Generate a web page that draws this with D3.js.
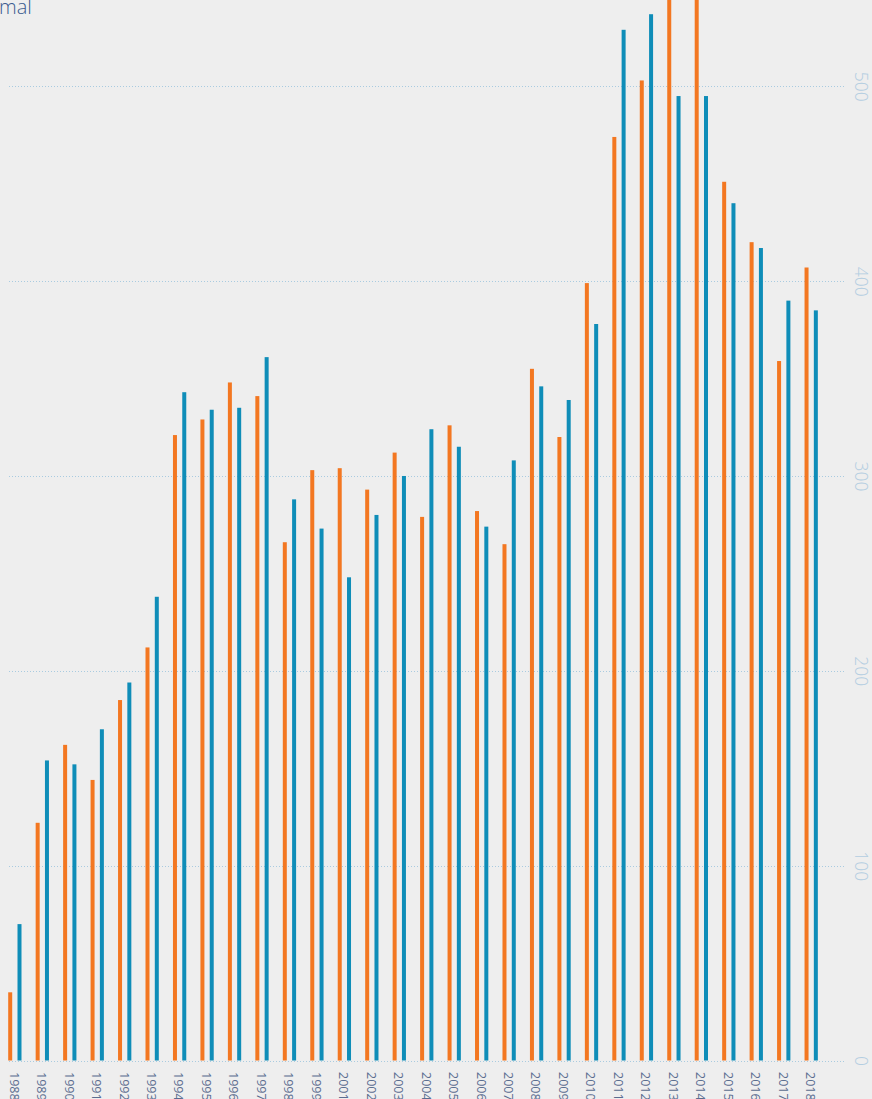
<!DOCTYPE html>
<html>
<head>
<meta charset="utf-8">
<script src="https://cdn.jsdelivr.net/npm/d3@7"></script>
<style>
  html, body { margin: 0; padding: 0; background: #eeeeee; overflow: hidden; }
  svg { display: block; }
</style>
</head>
<body>
<div id="chart"></div>
<script>
// chart data
var years = ["1988", "1989", "1990", "1991", "1992", "1993", "1994", "1995", "1996", "1997",
  "1998", "1999", "2001", "2002", "2003", "2004", "2005", "2006", "2007", "2008",
  "2009", "2010", "2011", "2012", "2013", "2014", "2015", "2016", "2017", "2018"];

var orangeValues = [35, 122, 162, 144, 185, 212, 321, 329, 348, 341,
  266, 303, 304, 293, 312, 279, 326, 282, 265, 355,
  320, 399, 474, 503, 565, 580, 451, 420, 359, 407];

var blueValues = [70, 154, 152, 170, 194, 238, 343, 334, 335, 361,
  288, 273, 248, 280, 300, 324, 315, 274, 308, 346,
  339, 378, 529, 537, 495, 495, 440, 417, 390, 385];

var seriesNames = ["orange", "blue"];
var yTicks = [0, 100, 200, 300, 400, 500];
var titleText = "mal";

var svgWidth = 872;
var svgHeight = 1099;

var colors = { orange: "#f37721", blue: "#0f8db8" };

var svg = d3.select("#chart")
  .append("svg")
  .attr("width", svgWidth)
  .attr("height", svgHeight);

// Scales
var step = 27.46;
var xScale = d3.scaleBand()
  .domain(years)
  .range([8.2, 8.2 + step * years.length])
  .paddingInner(0)
  .paddingOuter(0);

var xSub = d3.scalePoint()
  .domain(seriesNames)
  .range([0, 9.3]);

var yScale = d3.scaleLinear()
  .domain([0, 500])
  .range([1060.5, 86.3]);

var barWidth = 4;

// gridlines (dotted)
svg.append("g")
  .selectAll("line")
  .data(yTicks)
  .enter()
  .append("line")
  .attr("x1", 9)
  .attr("x2", 846)
  .attr("y1", function(d) { return Math.round(yScale(d)) + 0.5; })
  .attr("y2", function(d) { return Math.round(yScale(d)) + 0.5; })
  .attr("stroke", "#a9cbe0")
  .attr("stroke-width", 1)
  .attr("stroke-dasharray", "1,2");

// bars
var rows = years.map(function(y, i) {
  return { year: y, orange: orangeValues[i], blue: blueValues[i] };
});

var groups = svg.append("g")
  .selectAll("g")
  .data(rows)
  .enter()
  .append("g")
  .attr("transform", function(d) { return "translate(" + xScale(d.year) + ",0)"; });

groups.selectAll("rect")
  .data(function(d) {
    return seriesNames.map(function(k) { return { key: k, value: d[k] }; });
  })
  .enter()
  .append("rect")
  .attr("x", function(d) { return xSub(d.key); })
  .attr("y", function(d) { return yScale(d.value); })
  .attr("width", barWidth)
  .attr("height", function(d) { return yScale(0) - yScale(d.value); })
  .attr("fill", function(d) { return colors[d.key]; });

// right-hand axis, labels rotated
var yAxis = svg.append("g")
  .attr("transform", "translate(855,0)")
  .call(d3.axisRight(yScale).tickValues(yTicks).tickSize(0).tickFormat(d3.format("d")));

yAxis.select(".domain").remove();
yAxis.selectAll("text")
  .attr("x", null)
  .attr("dy", null)
  .attr("transform", "rotate(90)")
  .style("text-anchor", "middle")
  .style("font-family", "'Open Sans', 'Liberation Sans', sans-serif")
  .style("font-weight", "300")
  .style("font-size", "17.5px")
  .attr("fill", "#b3cde1");

// year labels along the bottom
svg.append("g")
  .selectAll("text")
  .data(years)
  .enter()
  .append("text")
  .attr("transform", function(d) {
    return "translate(" + (xScale(d) + 1.5) + ",1072) rotate(90)";
  })
  .style("text-anchor", "start")
  .style("font-family", "'Open Sans', 'Liberation Sans', sans-serif")
  .style("font-size", "12.5px")
  .attr("fill", "#5b6d90")
  .text(function(d) { return d; });

// title fragment, top left
svg.append("text")
  .attr("x", -1)
  .attr("y", 14)
  .style("font-family", "'Open Sans', 'Liberation Sans', sans-serif")
  .style("font-weight", "300")
  .style("font-size", "20px")
  .attr("fill", "#3b5b8f")
  .text(titleText);
</script>
</body>
</html>
